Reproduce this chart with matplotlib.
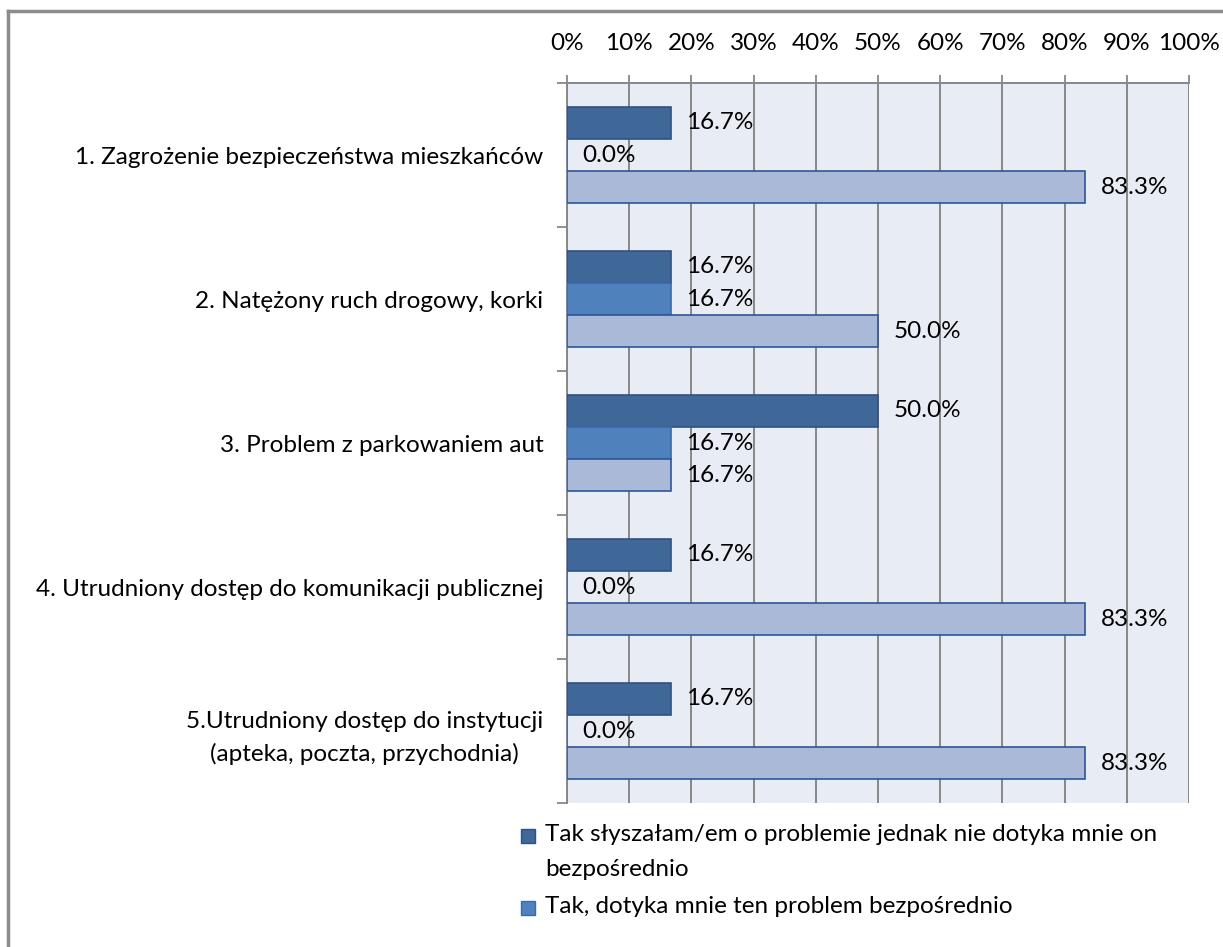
import matplotlib
matplotlib.use("Agg")
import matplotlib.pyplot as plt
import numpy as np
from matplotlib.patches import Rectangle
from matplotlib.lines import Line2D

plt.rcParams['font.family'] = ['Lato', 'DejaVu Sans']

categories = [
    "1. Zagrożenie bezpieczeństwa mieszkańców",
    "2. Natężony ruch drogowy, korki",
    "3. Problem z parkowaniem aut",
    "4. Utrudniony dostęp do komunikacji publicznej",
    "5.Utrudniony dostęp do instytucji\n(apteka, poczta, przychodnia)",
]
series_names = [
    "Tak słyszałam/em o problemie jednak nie dotyka mnie on\nbezpośrednio",
    "Tak, dotyka mnie ten problem bezpośrednio",
    "Nie słyszałam/em o tym problemie",
]
heard = [16.7, 16.7, 50.0, 16.7, 16.7]
affects_me = [0.0, 16.7, 16.7, 0.0, 0.0]
not_heard = [83.3, 50.0, 16.7, 83.3, 83.3]
values = [heard, affects_me, not_heard]

colors = ["#3F6797", "#4F81BD", "#A9B9D7"]
edges = ["#2E5283", "#3A6BA5", "#2F5597"]
FS = 17.5

W, H = 1223, 947
fig = plt.figure(figsize=(W / 100, H / 100), dpi=100)
ax = fig.add_axes([567 / W, 1 - 803 / H, (1189 - 567) / W, (803 - 83) / H])
ax.set_facecolor("#E8ECF4")

y = np.arange(len(categories))
h = 0.2245
for k, vals in enumerate(values):
    pos = y + (k - 1) * h
    ax.barh(pos, vals, height=h, color=colors[k], edgecolor=edges[k],
            linewidth=1.2, zorder=3)
    for p, v in zip(pos, vals):
        ax.annotate(f"{v:.1f}%", (v, p), xytext=(11, 0), textcoords="offset points",
                    ha="left", va="center", fontsize=FS, color="black", zorder=4)

ax.set_xlim(0, 100)
ax.set_ylim(len(categories) - 0.5, -0.5)
ax.xaxis.tick_top()
ax.set_xticks(np.arange(0, 101, 10))
ax.set_xticklabels([f"{t}%" for t in range(0, 101, 10)], fontsize=FS)
ax.tick_params(axis="x", length=6, width=1.3, color="#888888", pad=15)
ax.grid(axis="x", color="#888888", linewidth=1.4, zorder=1)

ax.set_yticks(y)
ax.set_yticklabels(categories, fontsize=FS, multialignment="center", linespacing=1.6)
ax.tick_params(axis="y", length=0, pad=17)
ax.set_yticks(np.arange(-0.5, len(categories)), minor=True)
ax.tick_params(axis="y", which="minor", length=7, width=1.3, color="#888888")

for s in ["right", "bottom"]:
    ax.spines[s].set_visible(False)
for s in ["left", "top"]:
    ax.spines[s].set_color("#888888")
    ax.spines[s].set_linewidth(1.4)

# legend drawn by hand: marker sits next to the first text line
legend_rows = [(836 / H, 0), (908 / H, 1)]
for yy, k in legend_rows:
    fig.patches.append(Rectangle((521 / W, 1 - yy - 7 / H), 14 / W, 14 / H,
                                 transform=fig.transFigure, facecolor=colors[k],
                                 edgecolor=edges[k], linewidth=1))
    fig.text(545 / W, 1 - yy + 12 / H, series_names[k], ha="left", va="top",
             fontsize=FS, linespacing=1.8)

# outer frame
fig.add_artist(Line2D([8 / W, 8 / W], [0, 1 - 11 / H], transform=fig.transFigure,
                      color="#8C8C8C", linewidth=2.5))
fig.add_artist(Line2D([8 / W, 1], [1 - 11 / H, 1 - 11 / H], transform=fig.transFigure,
                      color="#8C8C8C", linewidth=2.5))

fig.savefig("out.png", dpi=100, facecolor="white")
